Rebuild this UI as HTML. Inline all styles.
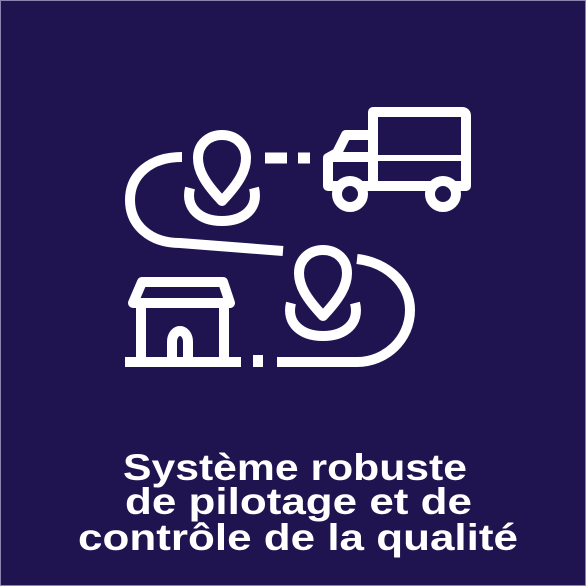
<!DOCTYPE html>
<html><head><meta charset="utf-8"><style>
html,body{margin:0;padding:0;background:#1f1450;}
svg{display:block;}
</style></head><body>
<svg width="586" height="586" viewBox="0 0 586 586">
<rect x="0" y="0" width="586" height="586" fill="#1f1450"/>
<rect x="0.5" y="0.5" width="585" height="585" fill="none" stroke="#8a85b0" stroke-width="1"/>
<g fill="none" stroke="#ffffff" stroke-width="10" stroke-linejoin="round">
  <path d="M182,157 C150,157 130,175 130,200 C130,225 150,243 180,243 L283,251" stroke-linecap="butt"/>
  <path d="M357,259 C385,262 410,282 410,310 C410,340 385,362 357,362 L277,362"/>
  <rect x="253" y="355" width="10" height="12" fill="#fff" stroke="none"/>
  <path d="M222,201 C204,182 198,170 198,158 C198,144 209,135 222,135 C235,135 246,144 246,158 C246,170 240,182 222,201 Z"/>
  <path d="M190,188 C185,208 200,221 222,221 C244,221 259,208 254,188"/>
  <path d="M323,316 C305,297 299,285 299,273 C299,259 310,250 323,250 C336,250 347,259 347,273 C347,285 341,297 323,316 Z"/>
  <path d="M291,303 C286,323 301,336 323,336 C345,336 360,323 355,303"/>
  <path d="M265,158 L287,158 M298,158 L310,158" stroke-width="11"/>
  <path d="M378,112 L462,112 Q466,112 466,116 L466,186 L373,186 L373,112 Z"/>
  <path d="M373,135 L346,135 L337,153 L328,158 L328,186 L373,186"/>
  <path d="M330,157 L373,157"/>
  <path d="M373,158 L462,158" stroke-width="6"/>
  <circle cx="350" cy="194" r="13" fill="#1f1450"/>
  <circle cx="443" cy="194" r="13" fill="#1f1450"/>
  <path d="M142,282 L223,282 L230,303 L133,303 Z"/>
  <path d="M141,303 L141,362 M224,303 L224,362 M125,362 L241,362"/>
  <path d="M172,362 L172,342 C172,335 176,331 180,331 C184,331 188,335 188,342 L188,362"/>
</g>
<g fill="#ffffff" font-family="'Liberation Sans', sans-serif" font-weight="bold" font-size="37">
  <text x="123" y="480" textLength="344" lengthAdjust="spacingAndGlyphs">Système robuste</text>
  <text x="125" y="514" textLength="347" lengthAdjust="spacingAndGlyphs">de pilotage et de</text>
  <text x="78" y="550" textLength="440" lengthAdjust="spacingAndGlyphs">contrôle de la qualité</text>
</g>
</svg>
</body></html>
